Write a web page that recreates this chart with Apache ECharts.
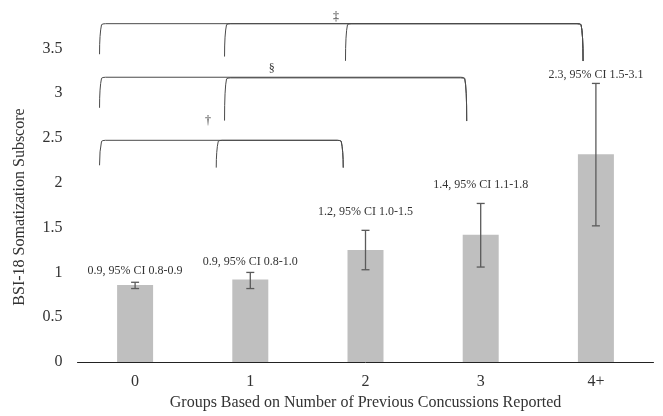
<!DOCTYPE html>
<html>
<head>
<meta charset="utf-8">
<script src="https://cdn.jsdelivr.net/npm/echarts@6/dist/echarts.min.js"></script>
<style>
html,body{margin:0;padding:0;background:#fff;}
#chart{width:663px;height:416px;}
</style>
</head>
<body>
<div id="chart"></div>
<script>
// ---- data ----
const categories = ['0', '1', '2', '3', '4+'];
const means = [0.86, 0.92, 1.25, 1.42, 2.32];
const ciLow = [0.82, 0.82, 1.03, 1.06, 1.52];
const ciHigh = [0.89, 1.00, 1.47, 1.77, 3.11];
const barLabels = [
  '0.9, 95% CI 0.8-0.9',
  '0.9, 95% CI 0.8-1.0',
  '1.2, 95% CI 1.0-1.5',
  '1.4, 95% CI 1.1-1.8',
  '2.3, 95% CI 1.5-3.1'
];
const yTickValues = [0, 0.5, 1, 1.5, 2, 2.5, 3, 3.5];
// significance brackets: [xStart, xEnd, yTop, yLeftBottom, yRightBottom] (x in category units)
const bracketsDoubleDagger = [
  [-0.30, 3.88, 3.777, 3.436, 3.36],
  [0.785, 3.88, 3.777, 3.410, 3.36],
  [1.835, 3.88, 3.777, 3.362, 3.36]
];
const bracketsSection = [
  [-0.30, 2.87, 3.179, 2.838, 2.69],
  [0.785, 2.87, 3.172, 2.695, 2.69]
];
const bracketsDagger = [
  [-0.30, 1.798, 2.475, 2.196, 2.17],
  [0.713, 1.798, 2.475, 2.170, 2.17]
];
// significance marks: [x, y, text]
const sigMarks = [
  [1.744, 3.856, '‡'],
  [1.186, 3.27, '§'],
  [0.633, 2.69, '†']
];

// ---- style ----
const FONT = '"Liberation Serif", "Times New Roman", serif';
const labelGap = [11, 11, 18, 19, 9];

const chart = echarts.init(document.getElementById('chart'), null, {renderer: 'canvas'});

function bracketItem(params, api) {
  const xs = api.value(0), xe = api.value(1), yt = api.value(2), yb1 = api.value(3), yb2 = api.value(4);
  const pS = api.coord([xs, yt]);
  const pE = api.coord([xe, yt]);
  const bS = api.coord([xs, yb1]);
  const bE = api.coord([xe, yb2]);
  const r = 5;
  const path = 'M' + (bS[0] - 1) + ',' + bS[1] +
    ' Q' + (pS[0] - 1) + ',' + (pS[1] + r * 2) + ' ' + (pS[0] + 1) + ',' + (pS[1] + 1) +
    ' Q' + (pS[0] + 2) + ',' + pS[1] + ' ' + (pS[0] + r) + ',' + pS[1] +
    ' L' + (pE[0] - r) + ',' + pE[1] +
    ' Q' + (pE[0] - 2) + ',' + pE[1] + ' ' + (pE[0] - 1) + ',' + (pE[1] + 1) +
    ' Q' + (pE[0] + 1) + ',' + (pE[1] + r * 2) + ' ' + (bE[0] + 1) + ',' + bE[1];
  return {
    type: 'path',
    shape: {pathData: path},
    style: {fill: null, stroke: '#4a4a4a', lineWidth: 1}
  };
}

const bracketData = bracketsDoubleDagger.concat(bracketsSection, bracketsDagger);

const option = {
  animation: false,
  backgroundColor: '#ffffff',
  grid: {left: 77.5, right: 9.5, top: 3.7, bottom: 48.7, containLabel: false},
  xAxis: [{
    type: 'category',
    data: categories,
    axisLine: {lineStyle: {color: '#222', width: 1}},
    axisTick: {show: false},
    axisLabel: {fontFamily: FONT, fontSize: 16, color: '#333', margin: 12},
    name: 'Groups Based on Number of Previous Concussions Reported',
    nameLocation: 'middle',
    nameGap: 33,
    nameTextStyle: {fontFamily: FONT, fontSize: 16, color: '#333'}
  }, {
    type: 'value',
    min: -0.5,
    max: 4.5,
    show: false
  }],
  yAxis: {
    type: 'value',
    min: 0,
    max: 4,
    interval: 0.5,
    axisLine: {show: false},
    axisTick: {show: false},
    splitLine: {show: false},
    axisLabel: {
      fontFamily: FONT, fontSize: 16, color: '#333', margin: 15, showMaxLabel: false,
      formatter: function (v) { return yTickValues.indexOf(v) >= 0 ? String(v) : ''; }
    }
  },
  graphic: [{
    type: 'text',
    x: 20, y: 207,
    rotation: Math.PI / 2,
    style: {
      text: 'BSI-18 Somatization Subscore',
      font: '16px ' + FONT,
      fill: '#333',
      align: 'center',
      verticalAlign: 'middle'
    }
  }],
  series: [{
    type: 'bar',
    data: means,
    barWidth: 36,
    itemStyle: {color: '#bfbfbf'},
    silent: true
  }, {
    type: 'custom',
    data: categories.map((c, i) => [i, ciLow[i], ciHigh[i]]),
    encode: {x: 0, y: [1, 2]},
    z: 5,
    renderItem: function (params, api) {
      const i = api.value(0);
      const lo = api.coord([i, api.value(1)]);
      const hi = api.coord([i, api.value(2)]);
      const cap = 4;
      return {
        type: 'group',
        children: [
          {type: 'line', shape: {x1: hi[0], y1: hi[1], x2: lo[0], y2: lo[1]}, style: {stroke: '#5a5a5a', lineWidth: 1.3}},
          {type: 'line', shape: {x1: hi[0] - cap, y1: hi[1], x2: hi[0] + cap, y2: hi[1]}, style: {stroke: '#5a5a5a', lineWidth: 1.3}},
          {type: 'line', shape: {x1: lo[0] - cap, y1: lo[1], x2: lo[0] + cap, y2: lo[1]}, style: {stroke: '#5a5a5a', lineWidth: 1.3}},
          {type: 'text', x: hi[0], y: hi[1] - labelGap[i], style: {
            text: barLabels[i], font: '12px ' + FONT, fill: '#333', align: 'center', verticalAlign: 'middle'
          }}
        ]
      };
    }
  }, {
    type: 'custom',
    xAxisIndex: 1,
    data: bracketData,
    encode: {x: 0, y: 2},
    clip: false,
    z: 6,
    renderItem: bracketItem
  }, {
    type: 'custom',
    xAxisIndex: 1,
    data: sigMarks,
    encode: {x: 0, y: 1},
    z: 6,
    renderItem: function (params, api) {
      const p = api.coord([api.value(0), api.value(1)]);
      return {type: 'text', x: p[0], y: p[1], style: {
        text: sigMarks[params.dataIndex][2], font: '12px ' + FONT, fill: '#333', align: 'center', verticalAlign: 'middle'
      }};
    }
  }]
};
chart.setOption(option);
</script>
</body>
</html>
